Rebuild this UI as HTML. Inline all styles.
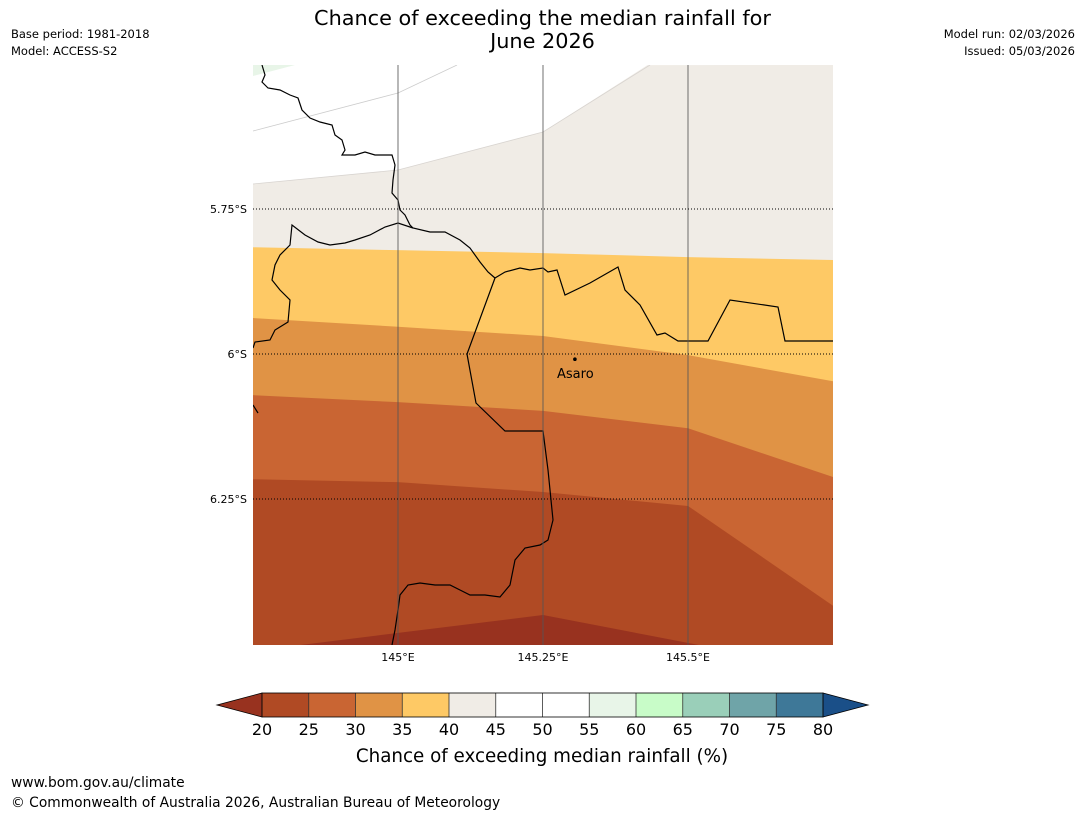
<!DOCTYPE html>
<html><head><meta charset="utf-8"><style>
body{margin:0;background:#fff;width:1085px;height:816px;overflow:hidden;font-family:"DejaVu Sans","Liberation Sans",sans-serif}
.t{position:absolute;font-size:11.5px;color:#000}
</style></head><body>
<div class="t" style="left:0;width:1085px;top:7px;text-align:center;font-size:20.8px;line-height:23px">Chance of exceeding the median rainfall for<br>June 2026</div>
<div class="t" style="left:11px;top:27px">Base period: 1981-2018</div>
<div class="t" style="left:11px;top:44px">Model: ACCESS-S2</div>
<div class="t" style="right:10px;top:27px">Model run: 02/03/2026</div>
<div class="t" style="right:10px;top:44px">Issued: 05/03/2026</div>
<div class="t" style="left:11px;top:775px;font-size:13.8px">www.bom.gov.au/climate</div>
<div class="t" style="left:11px;top:795px;font-size:13.8px">© Commonwealth of Australia 2026, Australian Bureau of Meteorology</div>
<svg id="map" width="1085" height="816" style="position:absolute;left:0;top:0"></svg>
<script>
const nodeLons=[144.75,145,145.25,145.5,145.75];
const b35=[-5.816,-5.821,-5.826,-5.833,-5.838];
const b30=[-5.938,-5.953,-5.969,-6.002,-6.047];
const b25=[-6.071,-6.083,-6.098,-6.128,-6.212];
const b20=[-6.216,-6.221,-6.238,-6.262,-6.434];
const whiteLons=[144.75,145,145.25,145.43];
const b40=[-5.707,-5.683,-5.617,-5.502];
const lowLons=[144.83,145.25,145.52];
const b0=[-6.502,-6.450,-6.502];
const xTicks=[145,145.25,145.5];
const xTickLabels=["145°E","145.25°E","145.5°E"];
const yTicks=[-5.75,-6,-6.25];
const yTickLabels=["5.75°S","6°S","6.25°S"];
const cbLevels=[20,25,30,35,40,45,50,55,60,65,70,75,80];
const cbColors=["#b04a24","#c96533","#e09345","#fec965","#f0ece6","#ffffff","#ffffff","#e8f5e8","#c8fcc8","#9acfb9","#6fa4a8","#3e7898"];
const NS="http://www.w3.org/2000/svg";
const svg=document.getElementById('map');
const X0=253,X1=833,Y0=65,Y1=645;
const x=lon=>398+(lon-145)*580;
const y=lat=>209+(-5.75-lat)*580;
function mk(t,a,p){const e=document.createElementNS(NS,t);for(const k in a)e.setAttribute(k,a[k]);(p||svg).appendChild(e);return e;}
const g=mk('g',{});


mk('defs',{}).innerHTML='<clipPath id="c"><rect x="253" y="65" width="580" height="580"/></clipPath>';
g.setAttribute('clip-path','url(#c)');
mk('rect',{x:X0,y:Y0,width:580,height:580,fill:'#fff'},g);
mk('polygon',{points:'253,65 295,65 253,76',fill:'#e8f5e8'},g);
function band(lons,lats,fill,name){
  let pts=lons.map((l,i)=>x(l)+','+y(lats[i]));
  pts.push(X1+','+Y1,X0+','+Y1);
  if(lons===whiteLons)pts.splice(lons.length,0,X1+','+Y0);
  const p=mk('polygon',{points:pts.join(' '),fill:fill},g);
  
  
}
band(whiteLons,b40,'#f0ece6','band-40-45');
band(nodeLons,b35,'#fec965','band-35-40');
band(nodeLons,b30,'#e09345','band-30-35');
band(nodeLons,b25,'#c96533','band-25-30');
band(nodeLons,b20,'#b04a24','band-20-25');
{let pts=lowLons.map((l,i)=>x(l)+','+y(b0[i]));const p=mk('polygon',{points:pts.join(' '),fill:'#98321f'},g);

}
mk('polyline',{points:'253,131 398,93 457,65',fill:'none',stroke:'#ccc','stroke-width':0.8},g);
mk('polyline',{points:'253,184 398,170 543,132 650,65',fill:'none',stroke:'#d8d4d0','stroke-width':0.8},g);
const bd='fill:none;stroke:#000;stroke-width:1.2';
[ "262,65 265,75 262,82 268,88 280,90 290,95 298,98 302,110 310,118 320,122 332,125 335,135 342,140 345,150 342,155 355,155 365,152 375,155 392,155 395,165 393,180 392,193 398,200 400,210 405,215 410,225 413,228 430,232 445,232 460,240 470,248 480,262 488,272 495,278",
  "413,228 398,223 385,227 370,235 355,240 345,243 330,245 318,242 305,235 292,225 290,245 280,255 275,265 272,280 280,290 290,300 288,322 275,330 270,340 255,342 253,348",
  "495,278 467,354 476,403 505,431 543,431 548,470 553,520 548,540 540,545 525,548 515,560 510,585 500,597 485,595 470,595 460,590 450,585 435,585 420,583 408,585 400,595 398,610 395,630 392,645",
  "495,278 505,272 520,268 530,270 543,268 548,272 557,270 565,295 590,283 618,267 625,290 640,305 657,335 665,333 678,341 708,341 730,300 778,307 785,341 833,341",
  "253,405 258,413"].forEach((pp,i)=>{const e=mk('polyline',{points:pp,style:bd},g);
  
  });
xTicks.forEach((v,i)=>{mk('line',{x1:x(v),x2:x(v),y1:Y0,y2:Y1,stroke:'#555','stroke-opacity':0.7,'stroke-width':1.2},g);
  const t=mk('text',{x:x(v),y:661,'font-size':11,'text-anchor':'middle'});t.textContent=xTickLabels[i];
  
  });
yTicks.forEach((v,i)=>{mk('line',{x1:X0,x2:X1,y1:y(v),y2:y(v),stroke:'#000','stroke-width':1,'stroke-dasharray':'1,2'},g);
  const t=mk('text',{x:247,y:y(v)+4,'font-size':11,'text-anchor':'end'});t.textContent=yTickLabels[i];
  
  });
mk('circle',{cx:x(145.305),cy:y(-6.009),r:1.8,fill:'#000'},g);
{const t=mk('text',{x:557,y:378,'font-size':13});t.textContent='Asaro';

}
const cx=v=>262+(v-20)*(823-262)/60, cy0=693, cy1=717;
const cb=mk('g',{});


mk('polygon',{points:`262,${cy0} 217,705 262,${cy1}`,fill:'#98321f',stroke:'#000','stroke-width':0.8},cb);
mk('polygon',{points:`823,${cy0} 868,705 823,${cy1}`,fill:'#1a4f88',stroke:'#000','stroke-width':0.8},cb);
cbColors.forEach((c,i)=>{mk('rect',{x:cx(cbLevels[i]),y:cy0,width:cx(cbLevels[i+1])-cx(cbLevels[i]),height:cy1-cy0,fill:c},cb);});
cbLevels.forEach(v=>{mk('line',{x1:cx(v),x2:cx(v),y1:cy0,y2:cy1,stroke:'#333','stroke-width':0.8},cb);
  const t=mk('text',{x:cx(v),y:735,'font-size':16,'text-anchor':'middle'},cb);t.textContent=v;});
mk('rect',{x:262,y:cy0,width:561,height:cy1-cy0,fill:'none',stroke:'#000','stroke-width':0.8},cb);
{const t=mk('text',{x:542,y:762,'font-size':18.3,'text-anchor':'middle'});t.textContent='Chance of exceeding median rainfall (%)';

}
</script>
</body></html>
